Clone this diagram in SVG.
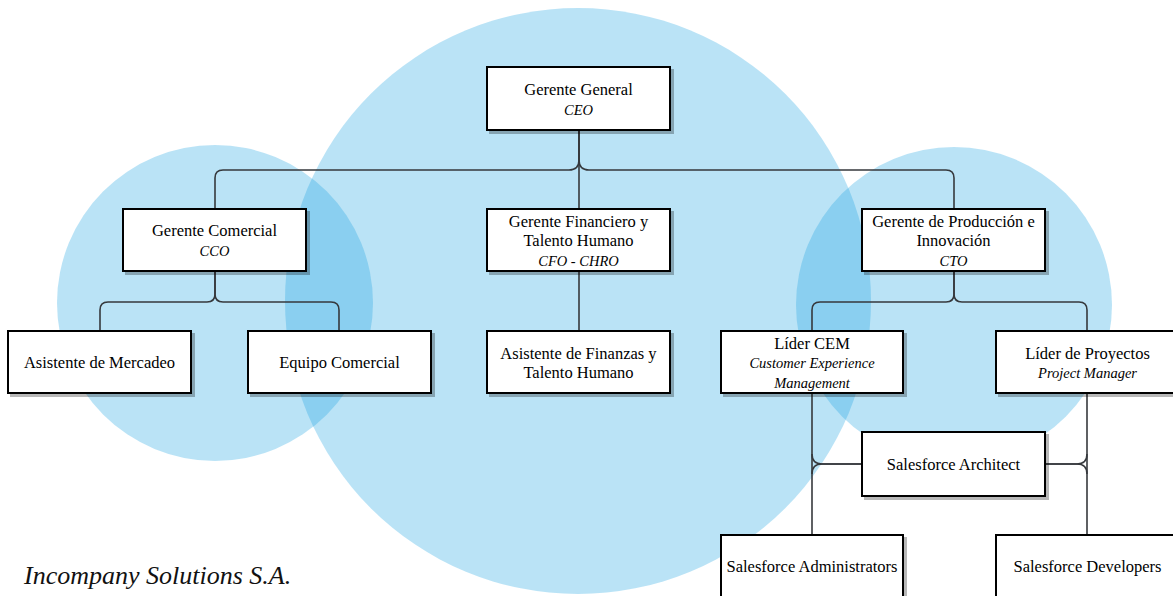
<svg xmlns="http://www.w3.org/2000/svg" width="1173" height="596" viewBox="0 0 1173 596">
  <defs>
    <filter id="shadow" x="-5%" y="-5%" width="115%" height="120%">
      <feDropShadow dx="3" dy="3" stdDeviation="0.6" flood-color="#000" flood-opacity="0.28"/>
    </filter>
    <style>
      .bubble { fill: #1ba1e2; fill-opacity: 0.3; }
      .box { fill: #ffffff; stroke: #000000; stroke-width: 2; filter: url(#shadow); }
      .edge { fill: none; stroke: #36393d; stroke-width: 1.6; }
      .t { font-family: "Liberation Serif", "Times New Roman", serif; font-size: 16.5px; fill: #000; text-anchor: middle; }
      .sub { font-family: "Liberation Serif", "Times New Roman", serif; font-size: 14.5px; font-style: italic; fill: #000; text-anchor: middle; }
      .brand { font-family: "Liberation Serif", "Times New Roman", serif; font-size: 26px; font-style: italic; fill: #111; }
    </style>
  </defs>

  <rect width="1173" height="596" fill="#ffffff"/>

  <!-- background areas -->
  <g id="areas">
    <circle class="bubble" cx="578" cy="301" r="293"/>
    <circle class="bubble" cx="215" cy="303" r="158"/>
    <circle class="bubble" cx="954" cy="305" r="158"/>
  </g>

  <!-- connectors -->
  <g id="connectors">
    <path class="edge" d="M579,130 V160 Q579,170 569,170 H223 Q215,170 215,178 V209"/>
    <path class="edge" d="M579,130 V160 Q579,170 589,170 H946 Q954,170 954,178 V209"/>
    <path class="edge" d="M579,130 V209"/>
    <path class="edge" d="M215,271 V294 Q215,302 207,302 H108 Q100,302 100,310 V331"/>
    <path class="edge" d="M215,271 V294 Q215,302 223,302 H331 Q339,302 339,310 V331"/>
    <path class="edge" d="M579,271 V331"/>
    <path class="edge" d="M954,271 V294 Q954,302 946,302 H820 Q812,302 812,310 V331"/>
    <path class="edge" d="M954,271 V294 Q954,302 962,302 H1079 Q1087,302 1087,310 V331"/>
    <path class="edge" d="M812,393 V535"/>
    <path class="edge" d="M1087,393 V535"/>
    <path class="edge" d="M862,464 H822 Q812,464 812,454"/>
    <path class="edge" d="M862,464 H822 Q812,464 812,474"/>
    <path class="edge" d="M1045,464 H1077 Q1087,464 1087,454"/>
    <path class="edge" d="M1045,464 H1077 Q1087,464 1087,474"/>
  </g>

  <g id="ceo">
    <rect class="box" x="487" y="67" width="183" height="63"/>
    <text class="t" x="578.5" y="95">Gerente General</text>
    <text class="sub" x="578.5" y="115">CEO</text>
  </g>

  <g id="cco">
    <rect class="box" x="123" y="209" width="183" height="62"/>
    <text class="t" x="214.5" y="236">Gerente Comercial</text>
    <text class="sub" x="214.5" y="256">CCO</text>
  </g>

  <g id="cfo">
    <rect class="box" x="487" y="209" width="183" height="62"/>
    <text class="t" x="578.5" y="227">Gerente Financiero y</text>
    <text class="t" x="578.5" y="246">Talento Humano</text>
    <text class="sub" x="578.5" y="265.5">CFO - CHRO</text>
  </g>

  <g id="cto">
    <rect class="box" x="862" y="209" width="183" height="62"/>
    <text class="t" x="953.5" y="227">Gerente de Producción e</text>
    <text class="t" x="953.5" y="246">Innovación</text>
    <text class="sub" x="953.5" y="265.5">CTO</text>
  </g>

  <g id="asistente-mercadeo">
    <rect class="box" x="8" y="331" width="183" height="62"/>
    <text class="t" x="99.5" y="368">Asistente de Mercadeo</text>
  </g>

  <g id="equipo-comercial">
    <rect class="box" x="248" y="331" width="183" height="62"/>
    <text class="t" x="339.5" y="368">Equipo Comercial</text>
  </g>

  <g id="asistente-finanzas">
    <rect class="box" x="487" y="331" width="183" height="62"/>
    <text class="t" x="578.5" y="358.5">Asistente de Finanzas y</text>
    <text class="t" x="578.5" y="378">Talento Humano</text>
  </g>

  <g id="lider-cem">
    <rect class="box" x="721" y="331" width="182" height="62"/>
    <text class="t" x="812" y="348.5">Líder CEM</text>
    <text class="sub" x="812" y="368">Customer Experience</text>
    <text class="sub" x="812" y="387.5">Management</text>
  </g>

  <g id="lider-proyectos">
    <rect class="box" x="996" y="331" width="183" height="62"/>
    <text class="t" x="1087.5" y="358.5">Líder de Proyectos</text>
    <text class="sub" x="1087.5" y="378">Project Manager</text>
  </g>

  <g id="salesforce-architect">
    <rect class="box" x="862" y="432" width="183" height="64"/>
    <text class="t" x="953.5" y="470">Salesforce Architect</text>
  </g>

  <g id="salesforce-admins">
    <rect class="box" x="721" y="535" width="182" height="64"/>
    <text class="t" x="812" y="572">Salesforce Administrators</text>
  </g>

  <g id="salesforce-devs">
    <rect class="box" x="996" y="535" width="183" height="64"/>
    <text class="t" x="1087.5" y="572">Salesforce Developers</text>
  </g>

  <text class="brand" x="24" y="584">Incompany Solutions S.A.</text>
</svg>
